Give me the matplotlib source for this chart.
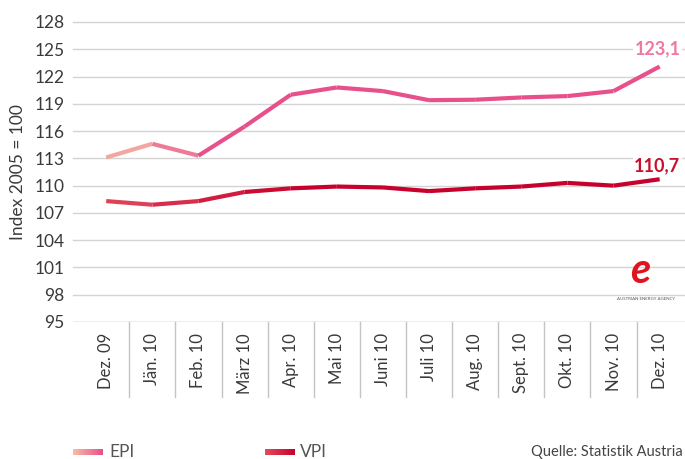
import numpy as np
import matplotlib
matplotlib.use("Agg")
import matplotlib.pyplot as plt
import matplotlib.colors as mcolors
from matplotlib.collections import LineCollection
from matplotlib.patches import Rectangle

months = ["Dez. 09", "Jän. 10", "Feb. 10", "März 10", "Apr. 10", "Mai 10", "Juni 10",
          "Juli 10", "Aug. 10", "Sept. 10", "Okt. 10", "Nov. 10", "Dez. 10"]
epi = [113.1, 114.6, 113.3, 116.5, 120.0, 120.8, 120.4, 119.4, 119.45, 119.7, 119.85, 120.4, 123.1]
vpi = [108.3, 107.9, 108.3, 109.3, 109.7, 109.9, 109.8, 109.4, 109.7, 109.9, 110.3, 110.0, 110.7]
yticks = [95, 98, 101, 104, 107, 110, 113, 116, 119, 122, 125, 128]

plt.rcParams['font.family'] = ['Lato', 'DejaVu Sans']
text_color = "#3a3a3a"


def gradient_line(ax, x, y, c_start, c_end, n_fade, lw=3.0):
    # colour fades over the first n_fade segments, then stays at c_end
    pts = np.array([x, y]).T.reshape(-1, 1, 2)
    segs = np.concatenate([pts[:-1], pts[1:]], axis=1)
    c0 = np.array(mcolors.to_rgb(c_start))
    c1 = np.array(mcolors.to_rgb(c_end))
    cols = []
    for i in range(len(segs)):
        t = min(1.0, (i + 0.5) / n_fade)
        cols.append(c0 * (1 - t) + c1 * t)
    lc = LineCollection(segs, colors=cols, linewidths=lw, capstyle="butt",
                        joinstyle="round", zorder=3)
    ax.add_collection(lc)


fig = plt.figure(figsize=(6.85, 4.59), dpi=100)
ax = fig.add_axes([73 / 685, 1 - 322 / 459, 1 - 73 / 685, 300 / 459])

x = np.arange(len(months))
ax.set_xlim(-0.72, 12.55)
ax.set_ylim(95, 128)

for v in yticks[1:]:
    ax.axhline(v, color="#d4d4d4", lw=1.0, zorder=1, clip_on=False)
ax.axhline(95, color="#a8a8a8", lw=1.0, zorder=2)

gradient_line(ax, x, epi, "#f6bca6", "#e8508c", 2.5)
gradient_line(ax, x, vpi, "#e24a5e", "#c8002d", 4)

ax.text(11.95, 125.1, "123,1", color="#ef79a2", fontsize=13, fontweight="bold",
        ha="center", va="center", zorder=4,
        bbox=dict(facecolor="white", edgecolor="none", pad=1))
ax.text(11.95, 112.2, "110,7", color="#c8102e", fontsize=13, fontweight="bold",
        ha="center", va="center", zorder=4,
        bbox=dict(facecolor="white", edgecolor="none", pad=1))

ax.set_yticks(yticks)
ax.set_yticklabels([str(v) for v in yticks], fontsize=12.5, color=text_color)
ax.set_xticks(x)
ax.set_xticklabels(months, rotation=90, fontsize=12, color=text_color, va="top")
ax.tick_params(axis="both", length=0)
ax.tick_params(axis="y", pad=6)
ax.tick_params(axis="x", pad=8)
for s in ax.spines.values():
    s.set_visible(False)

# separators between month labels
for b in np.arange(0.5, 12, 1.0):
    ax.plot([b, b], [95, 86.7], color="#c4c4c4", lw=1.0, clip_on=False, zorder=1)

ax.set_ylabel("Index 2005 = 100", fontsize=12.5, color=text_color, labelpad=6)

# logo
fig.text(640 / 685, 1 - 271 / 459, "e", color="#e0141e", fontsize=30,
         fontweight="bold", style="italic", ha="center", va="center")
fig.text(646 / 685, 1 - 299 / 459, "AUSTRIAN ENERGY AGENCY", color="#555555",
         fontsize=3.2, ha="center", va="center")

# legend
def swatch(x0, c_start, c_end):
    n = 30
    for i in range(n):
        t = i / (n - 1)
        c = np.array(mcolors.to_rgb(c_start)) * (1 - t) + np.array(mcolors.to_rgb(c_end)) * t
        fig.patches.append(Rectangle(((x0 + i) / 685, 1 - 455 / 459), 1.2 / 685, 6 / 459,
                                     transform=fig.transFigure, color=c, lw=0))

swatch(73, "#f6bca6", "#e8508c")
swatch(265, "#e24a5e", "#c8002d")
fig.text(109 / 685, 1 - 452 / 459, "EPI", fontsize=12.5, color="#555555", va="center")
fig.text(300 / 685, 1 - 452 / 459, "VPI", fontsize=12.5, color="#555555", va="center")
fig.text(683 / 685, 1 - 452 / 459, "Quelle: Statistik Austria", fontsize=10.5,
         color="#444444", ha="right", va="center")

fig.savefig("out.png", dpi=100)
